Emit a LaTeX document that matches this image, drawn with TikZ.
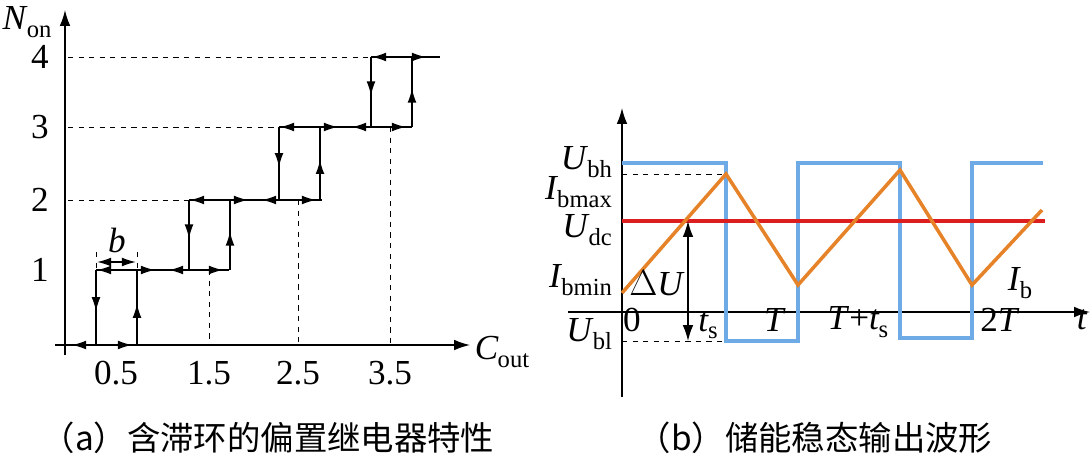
\documentclass[tikz,border=0pt]{standalone}
\usepackage{fontspec}
\setmainfont{Liberation Serif}
\newfontfamily\cjk{Noto Sans CJK SC}
\usetikzlibrary{arrows.meta,decorations.markings}
\definecolor{sqblue}{RGB}{110,170,230}
\definecolor{triorange}{RGB}{230,130,40}
\definecolor{dcred}{RGB}{220,30,30}
\newcommand{\symsub}[2]{\textit{#1}\kern-0.5pt\raisebox{-0.45ex}{\fontsize{14}{14}\selectfont #2}}
\tikzset{
  ax/.style={thick,-{Latex[length=9pt,width=6pt]}},
  hd/.style={-{Latex[length=8pt,width=5pt]},thick},
  midarr/.style={decoration={markings,mark=at position 0.55 with {\arrow{Latex[length=8pt,width=5pt]}}},postaction={decorate}},
  lbl/.style={font=\fontsize{20}{20}\selectfont,inner sep=1pt},
  captxt/.style={font=\cjk\fontsize{19}{19}\selectfont},
}
\begin{document}
\begin{tikzpicture}[x=0.02cm,y=-0.02cm]
\useasboundingbox (0,0) rectangle (1092,457);
%axes (a)
\draw[ax](55,345)--(470,345);
\draw[ax](65,355)--(65,10);
\node[lbl] at (27,22){\symsub{N}{on}};
\node[lbl] at (502,352){\symsub{C}{out}};
\foreach \n/\y in {1/270,2/200,3/127,4/57}
  \node[lbl] at (40,\y){\n};
\foreach \v/\x in {0.5/116,1.5/209,2.5/298,3.5/390}
  \node[lbl] at (\x,373){\v};
%dashed guides
\foreach \x/\y in {371/57,279/127,189/200}
  \draw[dashed](68,\y)--(\x,\y);
\foreach \x/\y in {209/270,298/200,390/127}
  \draw[dashed](\x,\y)--(\x,345);
%hysteresis steps
\draw[thick](66,345)--(137,345);
\draw[hd](84,345)--(72,345);
\draw[hd](118,345)--(132,345);
\foreach \xl/\yt/\yb in {96/270/345,189/200/270,279/127/200,371/57/127}{
  \draw[thick,midarr](\xl,\yt)--(\xl,\yb);
  \draw[thick,midarr](\xl+41,\yb)--(\xl+41,\yt);
  \draw[hd](\xl+12,\yt)--(\xl+1,\yt);
}
\foreach \xl/\yt in {96/270,189/200,279/127}{
  \draw[thick](\xl,\yt)--(\xl+133,\yt);
  \draw[hd](\xl+46,\yt)--(\xl+59,\yt);
  \draw[hd](\xl+86,\yt)--(\xl+73,\yt);
  \draw[hd](\xl+114,\yt)--(\xl+127,\yt);
}
\draw[thick](371,57)--(440,57);
\draw[hd](412,57)--(426,57);
%b width
\draw[dashed](96,252)--(96,270);
\draw[dashed](137,252)--(137,270);
\draw[thick,{Latex[length=8pt,width=5pt]}-{Latex[length=8pt,width=5pt]}](97,262)--(136,262);
\node[lbl] at (117,240){\textit{b}};
%axes (b)
\draw[ax](568,312)--(1090,312);
\draw[ax](622,397)--(622,108);
%waveforms
\draw[sqblue,line width=2pt](622,163)--(726,163)--(726,341)--(798,341)--(798,163)--(900,163)--(900,338)--(972,338)--(972,163)--(1043,163);
\draw[dcred,line width=2pt](622,221)--(1045,221);
\draw[triorange,line width=2pt](622,293)--(726,174)--(798,285)--(900,170)--(972,285)--(1042,210);
\draw[dashed](622,174)--(724,174);
\draw[dashed](622,341)--(724,341);
\draw[thick,{Latex[length=9pt,width=6pt]}-{Latex[length=9pt,width=6pt]}](688,221)--(688,341);
%labels (b)
\node[lbl,anchor=east] at (614,162){\symsub{U}{bh}};
\node[lbl,anchor=east] at (614,192){\symsub{I}{bmax}};
\node[lbl,anchor=east] at (614,230){\symsub{U}{dc}};
\node[lbl,anchor=east] at (614,280){\symsub{I}{bmin}};
\node[lbl,anchor=east] at (614,334){\symsub{U}{bl}};
\node[lbl] at (657,283){$\Delta$\textit{U}};
\node[lbl] at (632,320){0};
\node[lbl] at (708,325){\symsub{t}{s}};
\node[lbl] at (775,320){\textit{T}};
\node[lbl] at (858,322){\textit{T}+\symsub{t}{s}};
\node[lbl] at (1000,320){2\textit{T}};
\node[lbl] at (1082,320){\textit{t}};
\node[lbl] at (1020,283){\symsub{I}{b}};
%captions
\node[captxt] at (268,438){（a）含滞环的偏置继电器特性};
\node[captxt] at (815,438){（b）储能稳态输出波形};
\end{tikzpicture}
\end{document}
